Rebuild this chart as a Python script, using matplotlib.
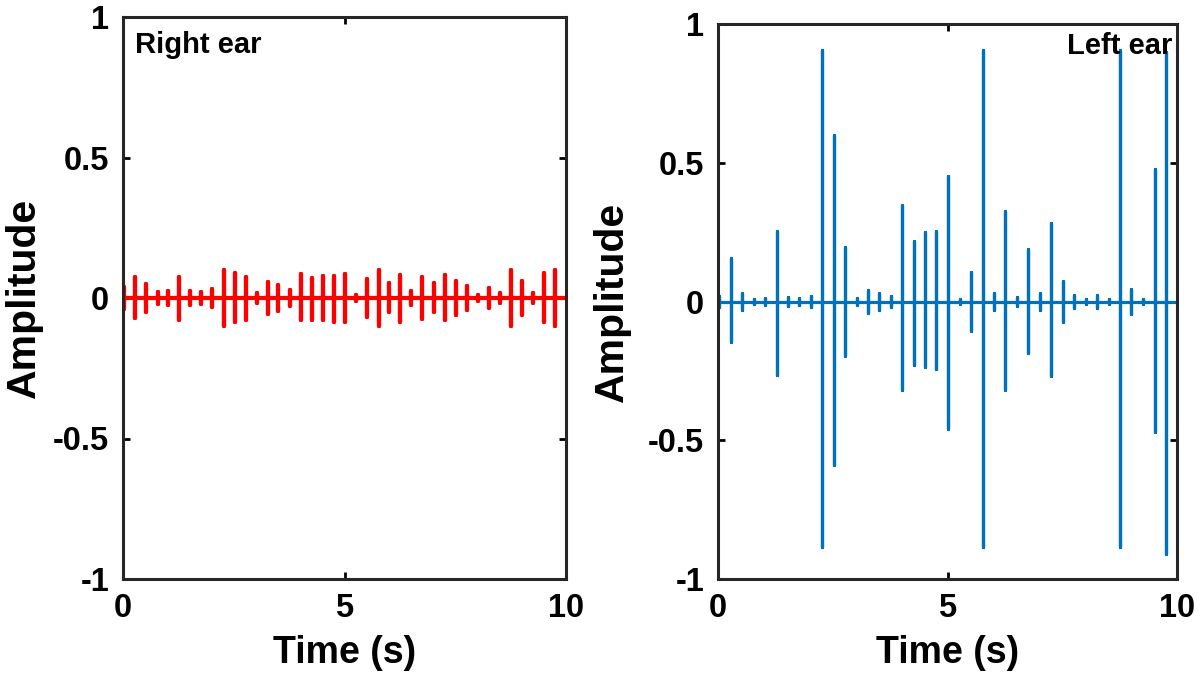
import numpy as np
import matplotlib
matplotlib.use('Agg')
from matplotlib import pyplot as plt

plt.rcParams['font.family'] = ['Liberation Sans', 'DejaVu Sans']
plt.rcParams['font.weight'] = 'bold'

# click times (s), same for both ears
t_click = [0.02, 0.275, 0.52, 0.78, 1.02, 1.275, 1.52, 1.77, 2.02, 2.275,
           2.52, 2.77, 3.02, 3.27, 3.51, 3.77, 4.01, 4.26, 4.51, 4.76,
           5.01, 5.27, 5.51, 5.77, 6.01, 6.26, 6.51, 6.76, 7.01, 7.26,
           7.51, 7.76, 8.01, 8.26, 8.51, 8.76, 9.0, 9.26, 9.51, 9.75]

# right ear peaks (positive / negative)
right_pos = [0.04, 0.073, 0.049, 0.02, 0.025, 0.076, 0.025, 0.02, 0.033, 0.10,
             0.088, 0.073, 0.018, 0.058, 0.047, 0.03, 0.085, 0.072, 0.079, 0.079,
             0.085, 0.01, 0.066, 0.10, 0.052, 0.083, 0.024, 0.076, 0.052, 0.082,
             0.061, 0.043, 0.009, 0.036, 0.019, 0.10, 0.061, 0.019, 0.09, 0.10]
right_neg = [0.04, 0.071, 0.05, 0.02, 0.025, 0.078, 0.025, 0.02, 0.033, 0.098,
             0.086, 0.078, 0.018, 0.056, 0.047, 0.03, 0.078, 0.078, 0.078, 0.084,
             0.084, 0.01, 0.066, 0.098, 0.05, 0.084, 0.024, 0.074, 0.05, 0.08,
             0.062, 0.044, 0.009, 0.036, 0.019, 0.098, 0.059, 0.019, 0.086, 0.098]

# left ear peaks (positive / negative)
left_pos = [0.02, 0.157, 0.03, 0.01, 0.012, 0.254, 0.015, 0.012, 0.02, 0.906,
            0.60, 0.196, 0.012, 0.04, 0.03, 0.02, 0.347, 0.218, 0.25, 0.254,
            0.453, 0.01, 0.107, 0.906, 0.03, 0.327, 0.015, 0.19, 0.03, 0.284,
            0.073, 0.025, 0.01, 0.025, 0.01, 0.906, 0.045, 0.01, 0.479, 0.90]
left_neg = [0.02, 0.147, 0.03, 0.01, 0.012, 0.265, 0.015, 0.012, 0.02, 0.885,
            0.59, 0.198, 0.012, 0.04, 0.03, 0.02, 0.318, 0.228, 0.235, 0.245,
            0.458, 0.01, 0.107, 0.886, 0.03, 0.318, 0.015, 0.184, 0.03, 0.268,
            0.074, 0.025, 0.01, 0.025, 0.01, 0.886, 0.045, 0.01, 0.471, 0.91]


def trace(times, pos, neg):
    xs, ys = [0.0], [0.0]
    for t, p, n in zip(times, pos, neg):
        xs += [t, t, t, t]
        ys += [0.0, p, -n, 0.0]
    xs.append(10.0)
    ys.append(0.0)
    return xs, ys


fig = plt.figure(figsize=(12, 6.85), dpi=100)
ax1 = fig.add_axes([123/1200, 1-579/685, 443/1200, 562/685])
ax2 = fig.add_axes([718/1200, 1-579/685, 459/1200, 555/685])

panels = [(ax1, right_pos, right_neg, '#FF0000', 3.0, 'Right ear', 7),
          (ax2, left_pos, left_neg, '#0072BD', 2.3, 'Left ear', 12)]

for ax, pos, neg, col, lw, name, lpad in panels:
    xs, ys = trace(t_click, pos, neg)
    ax.plot(xs, ys, color=col, lw=lw, solid_capstyle='round',
            solid_joinstyle='round')
    ax.set_xlim(0, 10)
    ax.set_ylim(-1, 1)
    ax.set_xticks([0, 5, 10])
    ax.set_yticks([-1, -0.5, 0, 0.5, 1])
    ax.set_yticklabels(['-1', '-0.5', '0', '0.5', '1'])
    ax.tick_params(direction='in', length=5, width=2, labelsize=23.5,
                   top=True, right=True, pad=10)
    for s in ax.spines.values():
        s.set_linewidth(2.2)
        s.set_color('#262626')
    ax.set_xlabel('Time (s)', fontsize=27, fontweight='bold', labelpad=8)
    ax.set_ylabel('Amplitude', fontsize=29.5, fontweight='bold', labelpad=lpad)
    if name == 'Right ear':
        ax.text(0.027, 0.975, name, transform=ax.transAxes, fontsize=21,
                fontweight='bold', ha='left', va='top', zorder=5)
    else:
        ax.text(0.99, 0.985, name, transform=ax.transAxes, fontsize=21,
                fontweight='bold', ha='right', va='top', zorder=5)

fig.savefig('out.png', dpi=100)
